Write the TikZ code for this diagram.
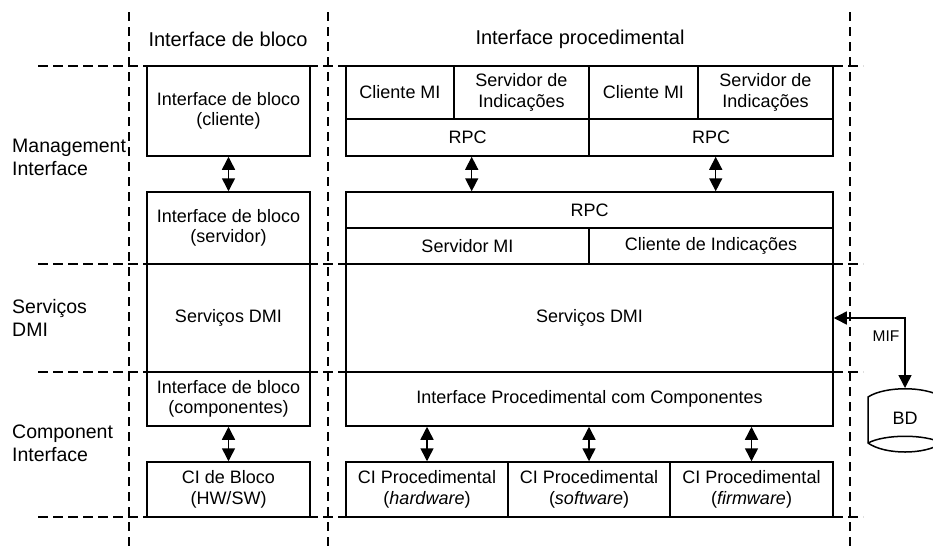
\documentclass[tikz,border=0pt]{standalone}
\usepackage{fontspec}
\setmainfont{Liberation Sans}
\usetikzlibrary{arrows.meta}
\newcommand\pbox[6]{\node[box, minimum width={#4-#2}, minimum height={#5-#3}] (#1) at ({(#2+#4)/2},{(#3+#5)/2}) {#6};}
\begin{document}
\begin{tikzpicture}[x=1pt,y=-1pt,
 box/.style={draw, line width=1.5pt, fill=white, inner sep=0pt, align=center, font=\fontsize{18}{20.5}\selectfont},
 hdash/.style={line width=1.2pt, dash pattern=on 10pt off 5pt},
 vdash/.style={line width=1.2pt, dash pattern=on 9pt off 6pt},
 lbl/.style={align=left, anchor=west, font=\fontsize{19.5}{23}\selectfont, inner sep=0pt},
 hdr/.style={font=\fontsize{20}{24}\selectfont, inner sep=0pt},
 headtip/.tip={Triangle[width=13pt 0 0,length=13pt 0 0]},
 dbl/.style={headtip-headtip, line width=1.5pt},
]
\useasboundingbox (0,0) rectangle (933,550);
\clip (0,0) rectangle (933,550);
% dashed grid
\foreach \y in {66,264,372,517} \draw[hdash] (38,\y) -- (863,\y);
\foreach \x in {129,328,850} \draw[vdash] (\x,12) -- (\x,550);
% headers
\node[hdr] (h1) at (228,39) {Interface de bloco};
\node[hdr] (h2) at (580,39) {Interface procedimental};
% side labels
\node[lbl] (l1) at (12,157) {Management\\Interface};
\node[lbl] (l2) at (12,318) {Serviços\\DMI};
\node[lbl] (l3) at (12,443) {Component\\Interface};
% left column
\pbox{lb1}{147}{66}{310}{156}{Interface de bloco\\(cliente)}
\pbox{lb2}{147}{192}{310}{264}{Interface de bloco\\(servidor)}
\pbox{lb3}{147}{264}{310}{372}{Serviços DMI}
\pbox{lb4}{147}{372}{310}{426}{Interface de bloco\\(componentes)}
\pbox{lb5}{147}{462}{310}{517}{CI de Bloco\\(HW/SW)}
% right column
\pbox{cm1}{346}{66}{454}{119}{Cliente MI}
\pbox{si1}{454}{66}{589}{119}{Servidor de\\Indicações}
\pbox{cm2}{589}{66}{698}{119}{Cliente MI}
\pbox{si2}{698}{66}{833}{119}{Servidor de\\Indicações}
\pbox{rpc1}{346}{119}{589}{156}{RPC}
\pbox{rpc2}{589}{119}{833}{156}{RPC}
\pbox{rpc3}{346}{192}{833}{228}{RPC}
\pbox{smi}{346}{228}{589}{264}{Servidor MI}
\pbox{cdi}{589}{228}{833}{264}{Cliente de Indicações}
\pbox{dmi}{346}{264}{833}{372}{Serviços DMI}
\pbox{ipc}{346}{372}{833}{426}{Interface Procedimental com Componentes}
\pbox{ci1}{346}{462}{508}{517}{CI Procedimental\\(\textit{hardware})}
\pbox{ci2}{508}{462}{670}{517}{CI Procedimental\\(\textit{software})}
\pbox{ci3}{670}{462}{833}{517}{CI Procedimental\\(\textit{firmware})}
% arrows
\draw[dbl] (lb1.south) -- (lb2.north);
\draw[dbl] (lb4.south) -- (lb5.north);
\coordinate (a1) at ([xshift=4.2pt]rpc1.south);
\coordinate (a2) at ([xshift=4.7pt]rpc2.south);
\draw[dbl] (a1) -- (a1 |- rpc3.north);
\draw[dbl] (a2) -- (a2 |- rpc3.north);
\draw[dbl] (ci1.north |- ipc.south) -- (ci1.north);
\draw[dbl] (ci2.north |- ipc.south) -- (ci2.north);
\draw[dbl] (ci3.north |- ipc.south) -- (ci3.north);
% database
\draw[line width=1.5pt, fill=white] (868,397) .. controls (885,386) and (925,386) .. (942,397) -- (942,443) .. controls (925,455) and (885,455) .. (868,443) -- cycle;
\draw[line width=1.5pt] (868,443) .. controls (885,434) and (925,434) .. (942,443);
\node[font=\fontsize{18}{20.5}\selectfont, inner sep=0pt] (bd) at (905,418) {BD};
\coordinate (bdtop) at (905,388);
\draw[dbl] (dmi.east) -| (bdtop);
\node[font=\fontsize{15.5}{18}\selectfont, inner sep=0pt] (mif) at (886,336) {MIF};
\end{tikzpicture}
\end{document}
